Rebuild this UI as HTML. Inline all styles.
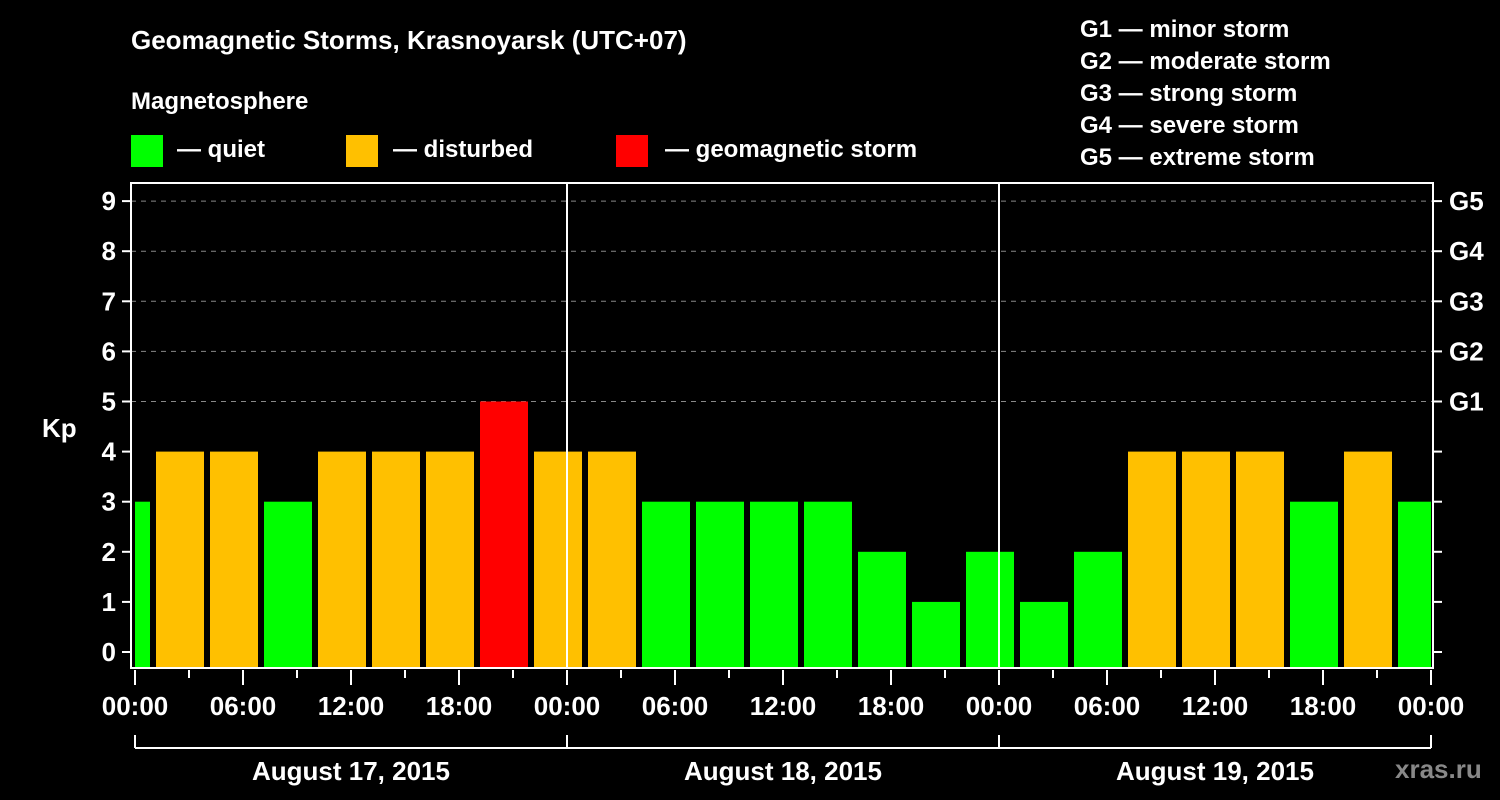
<!DOCTYPE html>
<html><head><meta charset="utf-8"><style>
html,body{margin:0;padding:0;background:#000;}
svg{display:block;font-family:"Liberation Sans",Arial,sans-serif;font-weight:bold;}
</style></head><body>
<svg id="c" width="1500" height="800" viewBox="0 0 1500 800">
<defs><clipPath id="pc"><rect x="135" y="183" width="1296" height="485"/></clipPath></defs>
<text x="131" y="49" fill="#fff" font-size="26">Geomagnetic Storms, Krasnoyarsk (UTC+07)</text>
<text x="131" y="109" fill="#fff" font-size="24">Magnetosphere</text>
<g><rect x="131" y="135" width="32" height="32" fill="#00ff00"/><text x="177" y="157" fill="#fff" font-size="24">— quiet</text></g>
<g><rect x="346" y="135" width="32" height="32" fill="#ffc000"/><text x="393" y="157" fill="#fff" font-size="24">— disturbed</text></g>
<g><rect x="616" y="135" width="32" height="32" fill="#ff0000"/><text x="665" y="157" fill="#fff" font-size="24">— geomagnetic storm</text></g>
<g fill="#fff" font-size="24">
<text x="1080" y="37">G1 — minor storm</text>
<text x="1080" y="69">G2 — moderate storm</text>
<text x="1080" y="101">G3 — strong storm</text>
<text x="1080" y="133">G4 — severe storm</text>
<text x="1080" y="165">G5 — extreme storm</text>
</g>
<text x="42" y="437" fill="#fff" font-size="26">Kp</text>
<text x="1395" y="778" fill="#888" font-size="26">xras.ru</text>
<g id="grid"></g><g id="bars" clip-path="url(#pc)"></g><g id="axes"></g>
</svg>
<script>
const kpValues=[3,4,4,3,4,4,4,5,4,4,3,3,3,3,2,1,2,1,2,4,4,4,3,4,3];
const slotStartHour=-2;
const days=["August 17, 2015","August 18, 2015","August 19, 2015"];
const xTickLabels=["00:00","06:00","12:00","18:00"];
const gLabels=["G1","G2","G3","G4","G5"];
const NS="http://www.w3.org/2000/svg";
const X=h=>135+h*18, Y=v=>652-v*50.1;
function mk(tag,attrs,parent){const e=document.createElementNS(NS,tag);for(const k in attrs)e.setAttribute(k,attrs[k]);document.getElementById(parent).appendChild(e);return e;}
for(let v=5;v<=9;v++){const l=mk('line',{x1:131,x2:1433,y1:Y(v),y2:Y(v),stroke:'#888','stroke-dasharray':'5,5','stroke-width':1},'grid');

}
kpValues.forEach((v,i)=>{const h=slotStartHour+3*i;const r=mk('rect',{x:X(h)+3,width:48,y:Y(v),height:667-Y(v),fill:v>=5?'#ff0000':(v>=4?'#ffc000':'#00ff00')},'bars');

});
[24,48].forEach(h=>{const l=mk('line',{x1:X(h),x2:X(h),y1:183,y2:668,stroke:'#fff','stroke-width':2},'axes');

});
const f=mk('rect',{x:131,y:183,width:1302,height:485,fill:'none',stroke:'#fff','stroke-width':2},'axes');


for(let v=0;v<=9;v++){
mk('line',{x1:122,x2:131,y1:Y(v),y2:Y(v),stroke:'#fff','stroke-width':2},'axes');
mk('line',{x1:1433,x2:1442,y1:Y(v),y2:Y(v),stroke:'#fff','stroke-width':2},'axes');
const t=mk('text',{x:116,y:Y(v)+9,fill:'#fff','font-size':26,'text-anchor':'end'},'axes');t.textContent=v;


if(v>=5){const g=mk('text',{x:1449,y:Y(v)+9,fill:'#fff','font-size':26},'axes');g.textContent=gLabels[v-5];

}
}
for(let h=0;h<=72;h+=3){const major=h%6===0;mk('line',{x1:X(h),x2:X(h),y1:670,y2:major?685:678,stroke:'#fff','stroke-width':2},'axes');
if(major){const t=mk('text',{x:X(h),y:715,fill:'#fff','font-size':26,'text-anchor':'middle'},'axes');t.textContent=xTickLabels[(h/6)%4];

}}
mk('line',{x1:X(0),x2:X(72),y1:748,y2:748,stroke:'#fff','stroke-width':2},'axes');
for(let d=0;d<=3;d++)mk('line',{x1:X(24*d),x2:X(24*d),y1:735,y2:748,stroke:'#fff','stroke-width':2},'axes');
days.forEach((d,i)=>{const t=mk('text',{x:X(24*i+12),y:780,fill:'#fff','font-size':26,'text-anchor':'middle'},'axes');t.textContent=d;

});
</script>
</body></html>
